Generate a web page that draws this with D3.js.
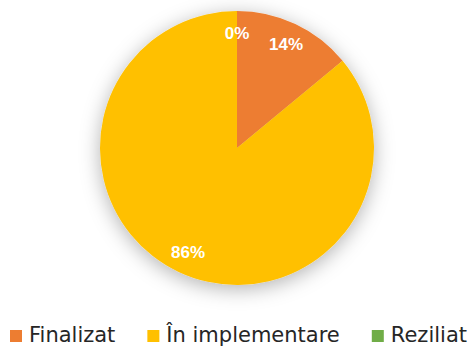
<!DOCTYPE html>
<html>
<head>
<meta charset="utf-8">
<script src="https://cdn.jsdelivr.net/npm/d3@7"></script>
<style>
  html, body { margin: 0; padding: 0; background: #ffffff; }
  svg { display: block; }
</style>
</head>
<body>
<svg id="chart" width="474" height="346"></svg>
<script>
// Contract status shares (percent)
const categories = ["Finalizat", "În implementare", "Reziliat"];
const values = [14, 86, 0];
const colors = ["#ED7D31", "#FFC000", "#70AD47"];

const svg = d3.select("#chart");
const cx = 237, cy = 148, radius = 137;

// soft glow behind the pie
const defs = svg.append("defs");
const filter = defs.append("filter")
  .attr("id", "pieShadow")
  .attr("x", "-30%").attr("y", "-30%")
  .attr("width", "160%").attr("height", "160%");
filter.append("feDropShadow")
  .attr("dx", 0).attr("dy", 4)
  .attr("stdDeviation", 10)
  .attr("flood-color", "#000")
  .attr("flood-opacity", 0.3);

const pie = d3.pie().sort(null).value(d => d)(values);
const arc = d3.arc().innerRadius(0).outerRadius(radius);
const labelArc = d3.arc().innerRadius(radius * 0.84).outerRadius(radius * 0.84);

const g = svg.append("g").attr("transform", `translate(${cx},${cy})`);

g.append("g").attr("filter", "url(#pieShadow)")
  .selectAll("path")
  .data(pie)
  .join("path")
  .attr("d", arc)
  .attr("fill", (d, i) => colors[i]);

const total = d3.sum(values);
g.selectAll("text.lbl")
  .data(pie)
  .join("text")
  .attr("class", "lbl")
  .attr("transform", d => `translate(${labelArc.centroid(d)})`)
  .attr("text-anchor", "middle")
  .attr("dy", "0.36em")
  .attr("font-family", "'Liberation Sans', Arial, sans-serif")
  .attr("font-weight", "bold")
  .attr("font-size", 17)
  .attr("fill", "#ffffff")
  .text(d => Math.round(d.data / total * 100) + "%");

// legend along the bottom
const legend = svg.append("g").attr("transform", "translate(10, 0)");
let x = 0;
categories.forEach((c, i) => {
  const item = legend.append("g").attr("transform", `translate(${x},0)`);
  item.append("rect")
    .attr("x", 0).attr("y", 330)
    .attr("width", 12).attr("height", 12)
    .attr("fill", colors[i]);
  const t = item.append("text")
    .attr("x", 19).attr("y", 342)
    .attr("font-family", "'DejaVu Sans', Verdana, sans-serif")
    .attr("font-size", 21)
    .attr("fill", "#262626")
    .text(c);
  const w = t.node().getComputedTextLength();
  x += 19 + w + 32;
});
</script>
</body>
</html>
